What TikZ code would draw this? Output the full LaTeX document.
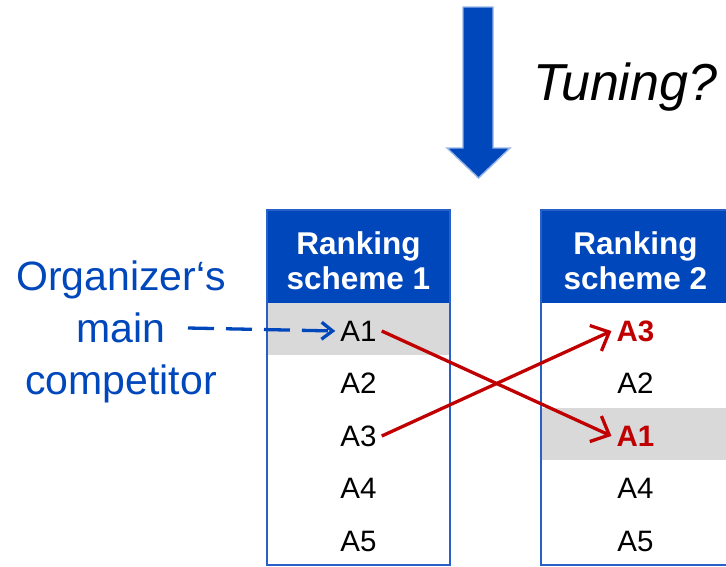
\documentclass[tikz,border=0pt]{standalone}
\usepackage{fontspec}
\setmainfont{Liberation Sans}
\usetikzlibrary{arrows.meta}

\definecolor{hdrblue}{RGB}{0,71,187}
\definecolor{edgeblue}{RGB}{40,96,200}
\definecolor{paleblue}{RGB}{150,180,230}
\definecolor{rowgray}{RGB}{217,217,217}
\definecolor{hotred}{RGB}{192,0,0}

\tikzset{
  hdrbox/.style={fill=hdrblue, draw=none, minimum width=#1, minimum height=93pt, inner sep=0pt},
  rowbox/.style={draw=none, minimum width=#1, minimum height=52.4pt, inner sep=0pt},
  hdrtext/.style={text=white, align=center, inner sep=0pt,
    font=\fontsize{31.5}{35}\selectfont\bfseries},
  item/.style={inner sep=5pt, font=\fontsize{29.5}{33}\selectfont},
  hotitem/.style={item, text=hotred, font=\fontsize{29.5}{33}\selectfont\bfseries},
  swap/.style={draw=hotred, line width=3.3pt, -{Straight Barb[length=15pt,width=28pt]}},
  pointer/.style={draw=hdrblue, line width=3.3pt, dash pattern=on 26pt off 12pt,
    -{Straight Barb[length=11pt,width=17pt]}},
  tablerim/.style={draw=edgeblue, line width=1.8pt},
}

\begin{document}
\begin{tikzpicture}[x=1pt, y=-1pt]
\useasboundingbox (0,0) rectangle (726,566);

% downward block arrow
\path[fill=hdrblue, draw=paleblue, line width=1.4pt]
  (463,7) -- (493,7) -- (493,148) -- (510,148) -- (478.5,178)
  -- (447,148) -- (463,148) -- cycle;
\node[anchor=base west, inner sep=0pt, font=\fontsize{52}{58}\selectfont\itshape]
  (tuning) at (533,100) {Tuning?};

% ranking scheme 1
\node[hdrbox=183pt] (hdrL) at (358.5,256.5) {};
\node[rowbox=183pt, fill=rowgray] (rowL1) at (358.5,329.2) {};
\node[hdrtext] (titleL) at (358.5,260.5) {Ranking\\scheme 1};
\node[item] (a1L) at (358.5,331) {A1};
\node[item] (a2L) at (358.5,383.5) {A2};
\node[item] (a3L) at (358.5,436) {A3};
\node[item] (a4L) at (358.5,488.5) {A4};
\node[item] (a5L) at (358.5,541) {A5};
\draw[tablerim] (267,210) rectangle (450,565);

% ranking scheme 2
\node[hdrbox=190pt] (hdrR) at (635.5,256.5) {};
\node[rowbox=190pt, fill=rowgray] (rowR3) at (635.5,434) {};
\node[hdrtext] (titleR) at (635.5,260.5) {Ranking\\scheme 2};
\node[hotitem] (a3R) at (635.5,331) {A3};
\node[item] (a2R) at (635.5,383.5) {A2};
\node[hotitem] (a1R) at (635.5,436) {A1};
\node[item] (a4R) at (635.5,488.5) {A4};
\node[item] (a5R) at (635.5,541) {A5};
\draw[tablerim] (541,210) rectangle (730.5,565);

% rank changes
\draw[swap] (a1L.east) -- (a1R.west);
\draw[swap] (a3L.east) -- (a3R.west);

% competitor label
\node[anchor=north, align=center, inner sep=0pt, text=hdrblue,
  font=\fontsize{41}{52}\selectfont] (comp) at (121,261)
  {Organizer‘s\\main\\competitor};
\coordinate (dashstart) at (188,328);
\draw[pointer] (dashstart) -- (a1L.west);
\end{tikzpicture}
\end{document}
